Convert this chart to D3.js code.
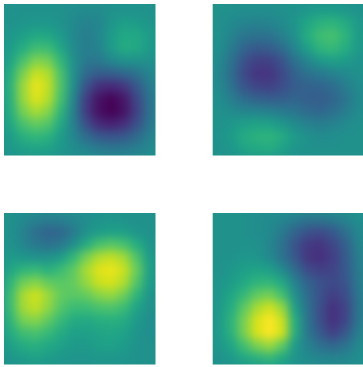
<!DOCTYPE html>
<html>
<head>
<meta charset="utf-8">
<style>
  html, body { margin: 0; padding: 0; background: #fff; overflow: hidden; }
  svg { display: block; }
</style>
<script src="https://cdn.jsdelivr.net/npm/d3@7"></script>
</head>
<body>
<div id="svgOutput"></div>
<script>
// Values, 0-100 on the viridis range, one row per line

const topLeft = [
  [50, 50, 51, 51, 50, 49, 48, 48, 50, 51, 51, 50],
  [51, 52, 53, 53, 51, 47, 44, 46, 52, 56, 55, 52],
  [53, 56, 60, 59, 54, 47, 42, 46, 55, 60, 60, 55],
  [55, 62, 69, 68, 59, 48, 42, 45, 54, 61, 60, 54],
  [58, 71, 81, 79, 66, 50, 40, 40, 46, 50, 50, 50],
  [62, 80, 92, 88, 71, 50, 34, 29, 30, 33, 38, 45],
  [64, 85, 97, 91, 72, 49, 25, 14, 12, 16, 27, 41],
  [63, 84, 95, 89, 70, 46, 18, 5, 1, 6, 21, 38],
  [62, 79, 87, 82, 65, 43, 17, 4, 0, 5, 19, 37],
  [59, 71, 76, 73, 60, 43, 24, 12, 9, 13, 24, 39],
  [55, 63, 66, 64, 55, 46, 35, 28, 26, 28, 34, 43],
  [53, 56, 58, 57, 53, 49, 46, 42, 40, 41, 43, 47]
];

const topRight = [
  [50, 50, 49, 49, 49, 50, 51, 53, 55, 55, 53, 51],
  [50, 47, 45, 44, 45, 48, 52, 59, 64, 65, 61, 54],
  [50, 45, 39, 37, 38, 43, 50, 62, 69, 71, 65, 55],
  [49, 41, 32, 28, 29, 35, 46, 56, 65, 67, 62, 54],
  [47, 37, 25, 19, 19, 26, 37, 46, 53, 56, 55, 51],
  [46, 35, 22, 15, 15, 22, 31, 37, 41, 44, 47, 50],
  [47, 37, 26, 20, 19, 23, 29, 31, 32, 35, 42, 48],
  [49, 42, 35, 31, 29, 30, 32, 30, 29, 32, 39, 46],
  [50, 48, 46, 45, 43, 41, 39, 35, 33, 36, 42, 48],
  [51, 53, 56, 58, 57, 53, 48, 44, 42, 44, 47, 50],
  [51, 55, 61, 64, 65, 61, 54, 50, 48, 49, 50, 50],
  [50, 53, 58, 60, 61, 57, 52, 50, 50, 50, 50, 50]
];

const bottomLeft = [
  [50, 47, 44, 42, 43, 46, 49, 51, 52, 51, 50, 50],
  [50, 44, 36, 32, 33, 41, 50, 55, 57, 56, 52, 50],
  [51, 46, 40, 37, 40, 49, 61, 71, 74, 71, 62, 52],
  [54, 52, 51, 50, 55, 66, 79, 88, 91, 86, 72, 55],
  [59, 65, 67, 63, 68, 75, 87, 95, 97, 92, 77, 56],
  [65, 78, 82, 76, 74, 76, 84, 92, 94, 88, 73, 55],
  [68, 87, 93, 85, 76, 74, 76, 82, 84, 78, 65, 52],
  [68, 86, 91, 83, 73, 68, 68, 71, 72, 68, 58, 50],
  [65, 79, 82, 75, 67, 61, 60, 62, 63, 61, 54, 49],
  [61, 69, 71, 67, 61, 56, 56, 58, 59, 57, 52, 49],
  [56, 61, 63, 60, 57, 54, 54, 56, 57, 55, 51, 50],
  [52, 55, 57, 55, 53, 52, 52, 53, 53, 52, 51, 50]
];

const bottomRight = [
  [50, 50, 50, 49, 48, 46, 42, 39, 39, 41, 45, 49],
  [50, 50, 50, 49, 47, 41, 32, 25, 23, 27, 36, 46],
  [50, 50, 51, 50, 46, 37, 26, 17, 15, 21, 30, 44],
  [50, 51, 53, 52, 47, 38, 27, 16, 13, 18, 28, 42],
  [51, 53, 56, 58, 56, 48, 35, 23, 19, 20, 27, 41],
  [52, 55, 60, 65, 66, 60, 44, 32, 25, 22, 26, 40],
  [53, 59, 67, 76, 79, 70, 50, 35, 25, 18, 23, 39],
  [54, 62, 75, 87, 93, 84, 56, 37, 24, 14, 20, 38],
  [54, 65, 80, 94, 100, 92, 62, 39, 24, 14, 21, 39],
  [54, 64, 80, 94, 100, 93, 62, 40, 28, 19, 27, 42],
  [53, 59, 70, 80, 85, 75, 54, 44, 37, 33, 38, 47],
  [51, 54, 59, 63, 66, 60, 52, 48, 46, 45, 46, 49]
];

const backgroundValue = 50;

// Config

const width = 363;
const height = 367;
const panelSize = 151.5;
const blur = 5;

const panels = [
  { id: "a", x: 4, y: 4, grid: topLeft },
  { id: "b", x: 212.7, y: 4, grid: topRight },
  { id: "c", x: 4, y: 213, grid: bottomLeft },
  { id: "d", x: 212.7, y: 213, grid: bottomRight }
];

const color = d3.scaleSequential(d3.interpolateViridis).domain([0, 100]);

const svg = d3.select("#svgOutput")
  .append("svg")
  .attr("width", width)
  .attr("height", height)
  .attr("viewBox", [0, 0, width, height]);

const defs = svg.append("defs");

// The blur smooths the cells into a continuous image

defs.append("filter")
  .attr("id", "smooth")
  .attr("filterUnits", "userSpaceOnUse")
  .attr("x", -50).attr("y", -50)
  .attr("width", width + 100).attr("height", height + 100)
  .attr("color-interpolation-filters", "sRGB")
  .append("feGaussianBlur")
  .attr("stdDeviation", blur);

panels.forEach((panel) => {
  const cols = d3.range(panel.grid[0].length);
  const rows = d3.range(panel.grid.length);

  const xScale = d3.scaleBand().domain(cols).range([panel.x, panel.x + panelSize]);
  const yScale = d3.scaleBand().domain(rows).range([panel.y, panel.y + panelSize]);

  defs.append("clipPath")
    .attr("id", `clip-${panel.id}`)
    .append("rect")
    .attr("x", panel.x)
    .attr("y", panel.y)
    .attr("width", panelSize)
    .attr("height", panelSize);

  const inner = svg.append("g")
    .attr("clip-path", `url(#clip-${panel.id})`)
    .append("g")
    .attr("filter", "url(#smooth)");

  // Base under the cells so the blur has something to pull in at the edges
  inner.append("rect")
    .attr("x", panel.x - 40)
    .attr("y", panel.y - 40)
    .attr("width", panelSize + 80)
    .attr("height", panelSize + 80)
    .attr("fill", color(backgroundValue));

  const cells = panel.grid.flatMap((row, r) => row.map((v, c) => ({ r, c, v })));

  inner.selectAll("rect.cell")
    .data(cells)
    .join("rect")
    .attr("class", "cell")
    .attr("x", d => xScale(d.c))
    .attr("y", d => yScale(d.r))
    .attr("width", xScale.bandwidth() + 0.5)
    .attr("height", yScale.bandwidth() + 0.5)
    .attr("fill", d => color(d.v));
});
</script>
</body>
</html>
